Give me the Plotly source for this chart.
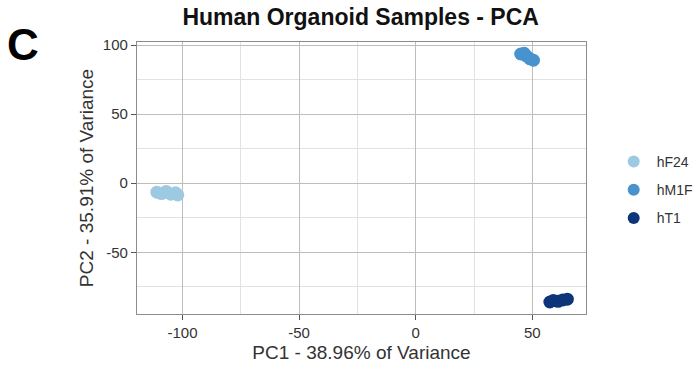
import plotly.graph_objects as go

# PCA scores per organoid line
groups = ["hF24", "hM1F", "hT1"]
colors = ["#9DC9E2", "#4893CD", "#0D357A"]

hF24_pc1 = [-111, -109, -107, -105, -103, -102]
hF24_pc2 = [-6.5, -7.5, -6.0, -8.0, -7.0, -8.5]

hM1F_pc1 = [45, 46.5, 47.5, 49, 50.5]
hM1F_pc2 = [93.5, 94.0, 92.0, 90.0, 89.0]

hT1_pc1 = [57.5, 59, 61, 63, 65]
hT1_pc2 = [-86.0, -85.0, -85.5, -84.5, -84.0]

xticks = [-100, -50, 0, 50]
xticklabels = ["-100", "-50", "0", "50"]
yticks = [-50, 0, 50, 100]
yticklabels = ["-50", "0", "50", "100"]

series = [
    (hF24_pc1, hF24_pc2),
    (hM1F_pc1, hM1F_pc2),
    (hT1_pc1, hT1_pc2),
]

fig = go.Figure()
for name, color, (xs, ys) in zip(groups, colors, series):
    fig.add_trace(go.Scatter(
        x=xs, y=ys, mode="markers", name=name, legendgroup=name,
        marker=dict(size=13, color=color, line=dict(width=0)),
    ))

font_family = "Liberation Sans, Arial, sans-serif"

axis_common = dict(
    showgrid=True, gridcolor="#BDBDBD", gridwidth=1,
    zeroline=False,
    showline=True, linecolor="#8C8C8C", linewidth=1.2, mirror=True,
    ticks="outside", ticklen=5, tickcolor="#555555", tickwidth=1,
    tickfont=dict(size=15, color="#333333", family=font_family),
)
minor_grid = dict(dtick=25, showgrid=True, gridcolor="#E2E2E2", ticks="")

fig.update_layout(
    width=698, height=371,
    margin=dict(l=137, r=112, t=42, b=57, autoexpand=False),
    plot_bgcolor="white", paper_bgcolor="white",
    font=dict(family=font_family, color="#222222"),
    showlegend=True,
    legend=dict(
        x=1.055, y=0.456, xanchor="left", yanchor="middle",
        font=dict(size=14, color="#333333"),
        itemsizing="constant", itemwidth=36,
        traceorder="grouped", tracegroupgap=7,
        bgcolor="rgba(0,0,0,0)",
    ),
    title=dict(
        text="<b>Human Organoid Samples - PCA</b>",
        x=0.5167, xanchor="center", y=0.953, yanchor="middle",
        font=dict(size=23, color="#111111"),
    ),
    xaxis=dict(
        range=[-119.5, 73], tickvals=xticks, ticktext=xticklabels, minor=minor_grid,
        title=dict(text="PC1 - 38.96% of Variance", font=dict(size=19, color="#333333"), standoff=5),
        **axis_common,
    ),
    yaxis=dict(
        range=[-94.7, 102.2], tickvals=yticks, ticktext=yticklabels, minor=minor_grid,
        title=dict(text="PC2 - 35.91% of Variance", font=dict(size=19, color="#333333"), standoff=4),
        **axis_common,
    ),
)

# Panel letter
fig.add_annotation(
    text="<b>C</b>", xref="paper", yref="paper",
    x=-0.293, y=0.989, xanchor="left", yanchor="middle",
    showarrow=False, font=dict(size=44, color="black"),
)

fig.write_html("out.html")
